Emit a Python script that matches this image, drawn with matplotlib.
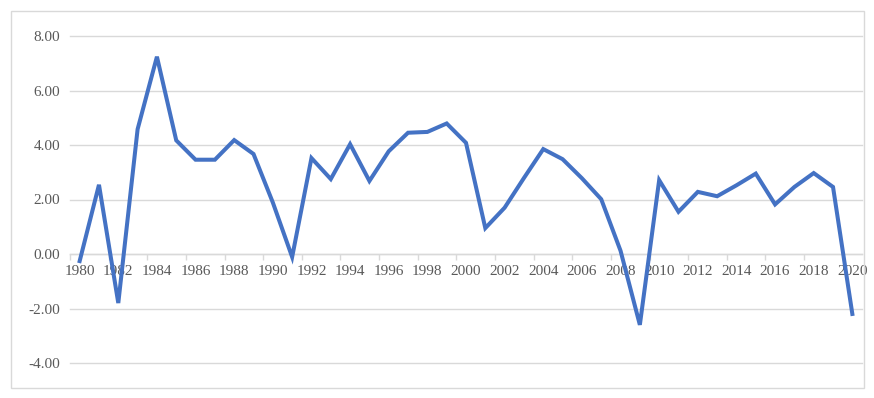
import numpy as np
import matplotlib.pyplot as plt
from matplotlib.patches import Rectangle
from matplotlib.ticker import FixedLocator, FixedFormatter

plt.rcParams['font.family'] = ['Liberation Serif', 'DejaVu Serif']

years = list(range(1980, 2021))
growth = [-0.26, 2.54, -1.80, 4.58, 7.24, 4.17, 3.46, 3.46, 4.18, 3.67,
          1.89, -0.11, 3.52, 2.75, 4.03, 2.68, 3.77, 4.45, 4.48, 4.79,
          4.08, 0.95, 1.70, 2.79, 3.85, 3.48, 2.78, 2.01, 0.12, -2.60,
          2.71, 1.55, 2.28, 2.12, 2.52, 2.95, 1.82, 2.46, 2.97, 2.46,
          -2.20]
yticks = [-4, -2, 0, 2, 4, 6, 8]

W, H = 874, 398
fig = plt.figure(figsize=(W / 100, H / 100), dpi=100)
ax = fig.add_axes([70 / W, 1 - 363 / H, 792 / W, 327 / H])

x = np.arange(len(years))
ax.plot(x, growth, color='#4472C4', lw=2.9, solid_joinstyle='miter', zorder=3)

ax.set_xlim(-0.5, len(years) - 0.5)
ax.set_ylim(-4, 8)
ax.set_axisbelow(True)

grey = '#D9D9D9'
txt = '#595959'
ax.set_yticks(yticks)
ax.set_yticklabels(['%.2f' % v for v in yticks])
ax.yaxis.grid(True, color=grey, lw=1.0, clip_on=False)
ax.tick_params(axis='y', length=0, pad=7, labelsize=11, labelcolor=txt)

for s in ['top', 'right', 'left']:
    ax.spines[s].set_visible(False)
ax.spines['bottom'].set_position(('data', 0))
ax.spines['bottom'].set_color(grey)
ax.spines['bottom'].set_linewidth(1.0)

lab_pos = x[::2]
ax.xaxis.set_major_locator(FixedLocator(lab_pos))
ax.xaxis.set_major_formatter(FixedFormatter([str(years[i]) for i in lab_pos]))
ax.xaxis.set_minor_locator(FixedLocator(np.arange(-0.5, len(years), 2)))
ax.tick_params(axis='x', which='major', length=0, pad=8, labelsize=11, labelcolor=txt)
ax.tick_params(axis='x', which='minor', length=4, color=grey, width=1.0)

fig.patches.append(Rectangle((11 / W, 1 - 388 / H), 853 / W, 377 / H,
                             transform=fig.transFigure, fill=False,
                             edgecolor='#D9D9D9', lw=1.0))

fig.savefig('out.png', dpi=100)
